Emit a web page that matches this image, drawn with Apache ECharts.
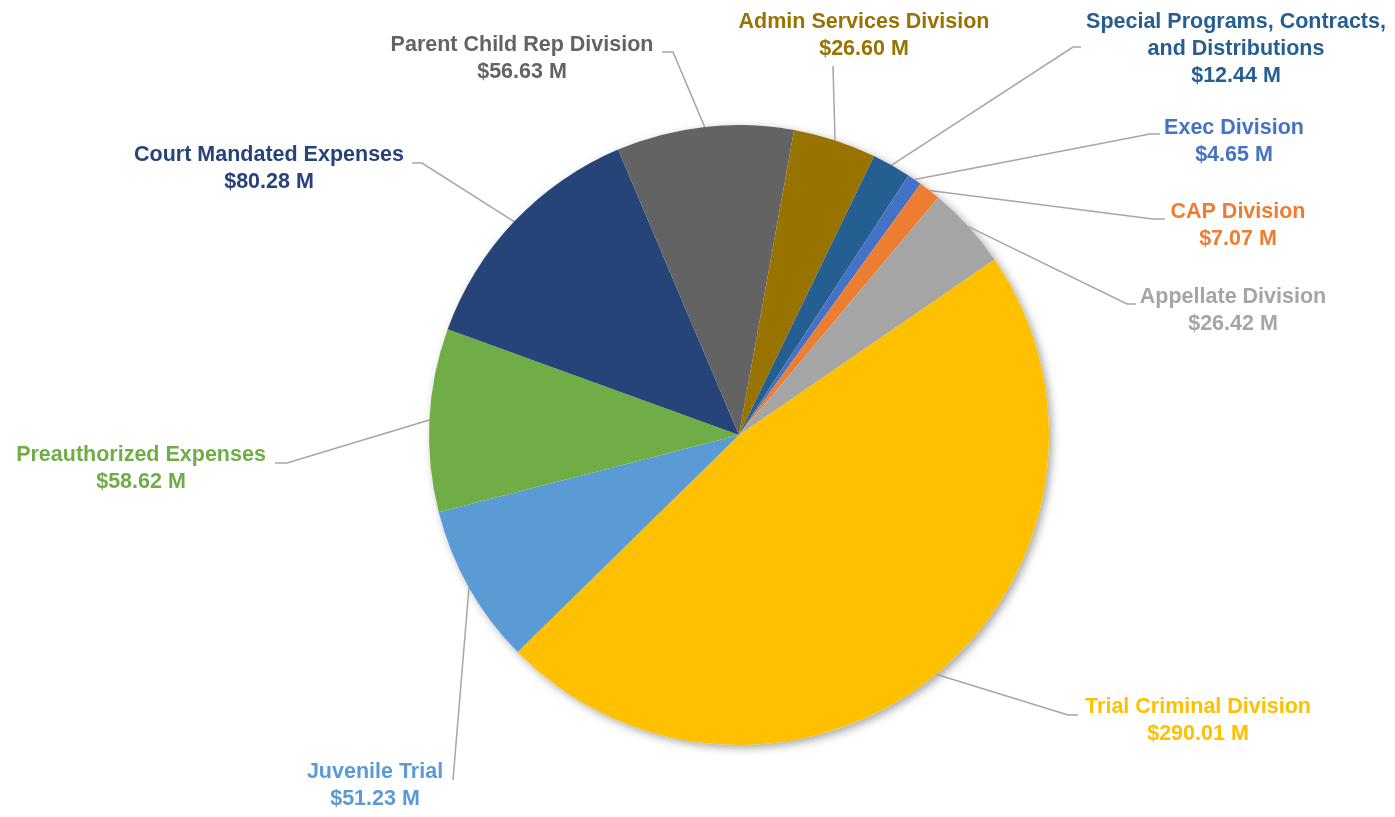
<!DOCTYPE html>
<html>
<head>
<meta charset="utf-8">
<title>Division Expenses</title>
<script src="https://cdn.jsdelivr.net/npm/echarts@6/dist/echarts.min.js"></script>
<style>
  html, body { margin: 0; padding: 0; background: #ffffff; }
  #chart { width: 1395px; height: 817px; }
</style>
</head>
<body>
<div id="chart"></div>
<script>
// Budget by division, in millions of dollars (clockwise from the largest slice)
const categories = [
  'Trial Criminal Division',
  'Juvenile Trial',
  'Preauthorized Expenses',
  'Court Mandated Expenses',
  'Parent Child Rep Division',
  'Admin Services Division',
  'Special Programs, Contracts,\nand Distributions',
  'Exec Division',
  'CAP Division',
  'Appellate Division'
];
const amounts = [290.01, 51.23, 58.62, 80.28, 56.63, 26.60, 12.44, 4.65, 7.07, 26.42];
const sliceColors = [
  '#FFC000', '#5B9BD5', '#70AD47', '#264478', '#636363',
  '#997300', '#255E91', '#4472C4', '#ED7D31', '#A5A5A5'
];

// Label placement: text centre x, first-line centre y, leader-line elbow and end
const labelSpots = [
  { x: 1198, y: 707, elbow: [1068, 715], end: [1078, 715] },
  { x: 375,  y: 772, elbow: [453, 780],  end: [453, 780] },
  { x: 141,  y: 455, elbow: [287, 463],  end: [275, 463] },
  { x: 269,  y: 155, elbow: [422, 163],  end: [412, 163] },
  { x: 522,  y: 45,  elbow: [673, 52],   end: [662, 52] },
  { x: 864,  y: 22,  elbow: [833, 66],   end: [833, 66] },
  { x: 1236, y: 22,  elbow: [1073, 47],  end: [1081, 47] },
  { x: 1234, y: 128, elbow: [1150, 134], end: [1160, 134] },
  { x: 1238, y: 212, elbow: [1153, 219], end: [1165, 219] },
  { x: 1233, y: 297, elbow: [1127, 304], end: [1136, 304] }
];

const LINE_H = 27;
const total = amounts.reduce((a, b) => a + b, 0);

const chart = echarts.init(document.getElementById('chart'), null, { renderer: 'canvas' });

const seriesData = categories.map((name, i) => ({
  name: name,
  value: amounts[i],
  itemStyle: { color: sliceColors[i] },
  label: { color: sliceColors[i] }
}));

chart.setOption({
  animation: false,
  backgroundColor: '#ffffff',
  series: [
    {
      // soft drop shadow under the whole pie
      type: 'pie',
      silent: true,
      center: [739, 435],
      radius: [0, 310],
      data: [{ value: total, itemStyle: { color: '#ffffff' } }],
      label: { show: false },
      labelLine: { show: false },
      itemStyle: {
        shadowBlur: 8,
        shadowOffsetX: 3,
        shadowOffsetY: 3,
        shadowColor: 'rgba(0,0,0,0.35)'
      },
      z: 1
    },
    {
      type: 'pie',
      center: [739, 435],
      radius: [0, 310],
      startAngle: 34.5,
      clockwise: true,
      avoidLabelOverlap: false,
      z: 2,
      data: seriesData,
      itemStyle: { borderWidth: 0 },
      label: {
        show: true,
        position: 'outside',
        fontFamily: 'Liberation Sans, Arial, sans-serif',
        fontSize: 21.5,
        fontWeight: 'bold',
        lineHeight: LINE_H,
        align: 'center',
        formatter: p => p.name + '\n$' + p.value.toFixed(2) + ' M'
      },
      labelLine: {
        show: true,
        length: 20,
        length2: 10,
        lineStyle: { color: '#A6A6A6', width: 1.5 }
      },
      labelLayout: function (params) {
        const s = labelSpots[params.dataIndex];
        const start = params.labelLinePoints ? params.labelLinePoints[0] : s.elbow;
        return {
          x: s.x,
          y: s.y - LINE_H / 2,
          align: 'center',
          verticalAlign: 'top',
          labelLinePoints: [start, s.elbow, s.end]
        };
      }
    }
  ]
});
</script>
</body>
</html>
